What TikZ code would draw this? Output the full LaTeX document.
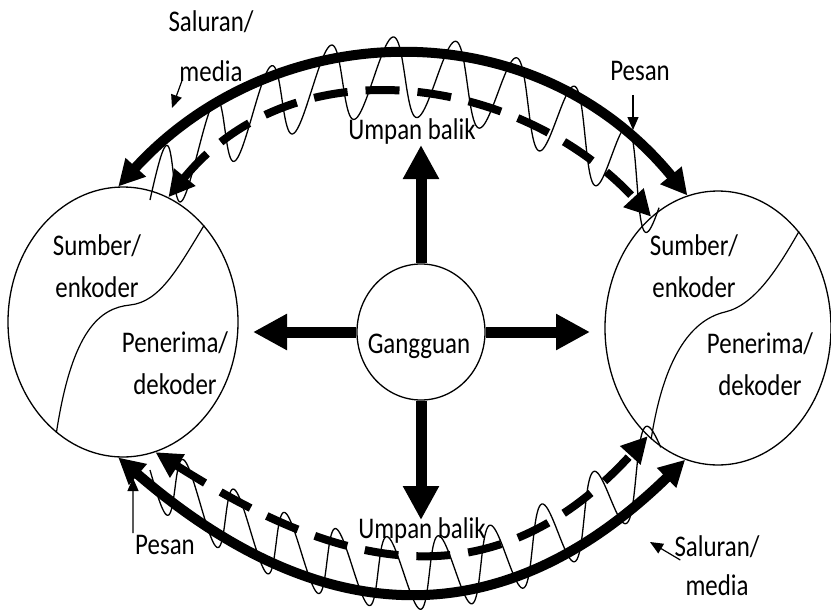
\documentclass[tikz,border=0pt]{standalone}
\usepackage{fontspec}
\setmainfont{Carlito}[FakeStretch=0.83]
\usetikzlibrary{arrows.meta,shapes.geometric}

\begin{document}
\begin{tikzpicture}[
  x=1pt,y=-1pt,
  >=Stealth,
  declare function={
    bz(\t,\a,\b,\c,\d)=(1-\t)^3*\a+3*(1-\t)^2*\t*\b+3*(1-\t)*\t^2*\c+\t^3*\d;
  },
  txt/.style={font=\fontsize{30}{42}\selectfont,align=center,inner sep=2pt},
  party/.style={draw,ellipse,line width=1.3pt,minimum width=230pt,minimum height=270pt},
  hub/.style={draw,ellipse,line width=1.3pt,minimum width=128pt,minimum height=136pt},
  split/.style={line width=1.2pt},
  push/.style={line width=11pt,-{Triangle[length=34pt,width=34pt]}},
  flow/.style={line width=10pt,{Triangle[length=26pt,width=26pt]}-{Triangle[length=26pt,width=26pt]}},
  back/.style={flow,line width=8pt,dash pattern=on 34pt off 18pt},
  wave/.style={line width=1.3pt,line join=round},
  pointer/.style={line width=1.2pt,-{Triangle[length=13pt,width=11pt]}}
]
\useasboundingbox (0,0) rectangle (831,614);
% the two parties
\node[party] (lsys) at (123,322) {};
\node[party,minimum width=226pt,minimum height=274pt] (rsys) at (718,328) {};
\node[hub] (noise) at (421,332) {};
\draw[split] (lsys.50) .. controls (178,268) and (160,302) .. (130,305) .. controls (100,308) and (72,330) .. (lsys.-121);
\draw[split] (rsys.50) .. controls (778,268) and (755,305) .. (725,312) .. controls (695,319) and (665,350) .. (rsys.-121);
\node[txt] (lsrc) at (97,266) {Sumber/\\enkoder};
\node[txt] (ldst) at (175,363) {Penerima/\\dekoder};
\node[txt] (rsrc) at (694,266) {Sumber/\\enkoder};
\node[txt] (rdst) at (760,364) {Penerima/\\dekoder};
\node[txt] (noisetxt) at (419,346) {Gangguan};
\node[txt] (fbtop) at (412,131) {Umpan balik};
\node[txt] (fbbot) at (422,530) {Umpan balik};
\node[txt,font=\fontsize{30}{50}\selectfont] (lsal) at (211,46) {Saluran/\\media};
\node[txt] (rpes) at (640,71) {Pesan};
\node[txt] (lpes) at (165,545) {Pesan};
\node[txt,font=\fontsize{30}{39}\selectfont] (rsal) at (717,566) {Saluran/\\media};
% noise arrows
\coordinate (tipL) at (253,332);
\coordinate (tipR) at (590,332);
\coordinate (tipU) at (421,145);
\coordinate (tipD) at (421,520);
\draw[push] (noise.west) -- (tipL);
\draw[push] (noise.east) -- (tipR);
\draw[push] (noise.north) -- (tipU);
\draw[push] (noise.south) -- (tipD);
% channels
\draw[flow] (lsys.92) .. controls (273,17) and (532,6) .. (rsys.103);
\draw[back] (lsys.70) .. controls (295,42) and (520,75) .. (rsys.121);
\draw[flow] (lsys.-92) .. controls (311,624) and (494,646) .. (rsys.-104);
\draw[back] (lsys.-76) .. controls (324,559) and (484,616) .. (rsys.-123);
% signal waves round the channels
\draw[wave] plot[variable=\t,domain=0:1,samples=400,smooth]
  ({bz(\t,150,284,526,660)+4*sin(3240*\t)},{bz(\t,200,30,40,205)-40*sin(3240*\t)});
\draw[wave] plot[variable=\t,domain=0:1,samples=400,smooth]
  ({bz(\t,150,317,489,662)+4*sin(3600*\t)},{bz(\t,470,591,631,450)+36*sin(3600*\t)});
% label pointers
\coordinate (lsaltip) at (172,108);
\coordinate (rpestip) at (633,130);
\coordinate (lpestip) at (133,478);
\coordinate (rsaltip) at (650,542);
\draw[pointer] ([xshift=16pt,yshift=4pt]lsal.south west) -- (lsaltip);
\draw[pointer] ([xshift=-7pt,yshift=-12pt]rpes.south) -- (rpestip);
\draw[pointer] (lpes.north west) -- (lpestip);
\draw[pointer] ([xshift=8pt,yshift=6pt]rsal.west) -- (rsaltip);
\end{tikzpicture}
\end{document}
